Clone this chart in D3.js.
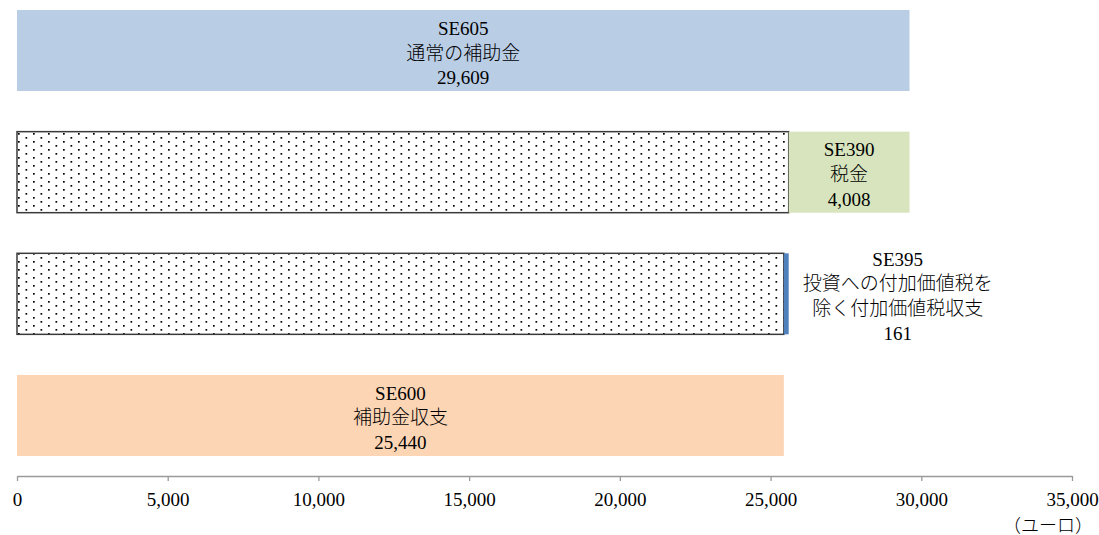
<!DOCTYPE html>
<html>
<head>
<meta charset="utf-8">
<script src="https://cdn.jsdelivr.net/npm/d3@7"></script>
<style>
    body { margin: 0; background: #fff; }
    svg text { font-family: "Liberation Serif", "Noto Sans CJK JP", serif; fill: #000; font-weight: 300; }
</style>
</head>
<body>
<div id="chart"></div>
<script>
    "use strict";

    // chart data
    const codes = ["SE605", "SE390", "SE395", "SE600"];
    const names = [["通常の補助金"], ["税金"], ["投資への付加価値税を", "除く付加価値税収支"], ["補助金収支"]];
    const values = [29609, 4008, 161, 25440];
    const kinds = ["total", "decrease", "decrease", "total"];
    const tickValues = [0, 5000, 10000, 15000, 20000, 25000, 30000, 35000];
    const unitLabel = "（ユーロ）";

    const barColors = ["#b9cde5", "#d7e4bd", "#4f81bd", "#fcd5b5"];

    const width = 1099;
    const height = 535;

    const svg = d3.select("#chart").append("svg")
        .attr("width", width)
        .attr("height", height);

    // dotted fill for the hidden base of the falling steps
    const pat = svg.append("defs").append("pattern")
        .attr("id", "dots")
        .attr("patternUnits", "userSpaceOnUse")
        .attr("x", 18).attr("y", 133)
        .attr("width", 15).attr("height", 8);
    pat.append("rect").attr("width", 15).attr("height", 8).attr("fill", "#fff");
    pat.append("rect").attr("x", 0).attr("y", 0).attr("width", 1.7).attr("height", 1.7).attr("fill", "#000");
    pat.append("rect").attr("x", 7.5).attr("y", 4).attr("width", 1.7).attr("height", 1.7).attr("fill", "#000");

    const x = d3.scaleLinear().domain([0, 35000]).range([17, 1072]);
    const y = d3.scaleBand().domain(codes).range([10, 456]).paddingInner(0.334).paddingOuter(0);

    // work out start/end of every step
    let running = 0;
    const rows = codes.map((c, i) => {
        let start, end;
        if (kinds[i] === "total") {
            start = 0; end = values[i]; running = values[i];
        } else {
            end = running; start = running - values[i]; running = start;
        }
        return { code: c, name: names[i], value: values[i], kind: kinds[i], start, end, color: barColors[i] };
    });

    // base boxes
    svg.selectAll("rect.base")
        .data(rows.filter(d => d.kind === "decrease"))
        .enter().append("rect")
        .attr("class", "base")
        .attr("x", x(0))
        .attr("y", d => y(d.code))
        .attr("width", d => x(d.start) - x(0))
        .attr("height", y.bandwidth())
        .attr("fill", "url(#dots)")
        .attr("stroke", "#3a3a3a")
        .attr("stroke-width", 1.5);

    // value bars
    svg.selectAll("rect.bar")
        .data(rows)
        .enter().append("rect")
        .attr("class", "bar")
        .attr("x", d => x(d.start))
        .attr("y", d => y(d.code))
        .attr("width", d => x(d.end) - x(d.start))
        .attr("height", y.bandwidth())
        .attr("fill", d => d.color);

    // labels
    const lineH = 24.8;
    const fmt = d3.format(",");
    rows.forEach(d => {
        const lines = [d.code].concat(d.name).concat([fmt(d.value)]);
        const cy = y(d.code) + y.bandwidth() / 2 + 2;
        const w = x(d.end) - x(d.start);
        const g = svg.append("g");
        const t = g.append("text")
            .attr("text-anchor", "middle")
            .style("font-size", "19px");
        lines.forEach((ln, k) => {
            t.append("tspan")
                .attr("x", 0)
                .attr("y", cy + (k - (lines.length - 1) / 2) * lineH + 7)
                .text(ln);
        });
        let cx;
        if (w > 100) {
            cx = (x(d.start) + x(d.end)) / 2;
        } else {
            const tw = t.node().getBBox().width;
            cx = x(d.end) + 14 + tw / 2;
        }
        g.attr("transform", "translate(" + cx + ",0)");
    });

    // axis
    const axis = d3.axisBottom(x)
        .tickValues(tickValues)
        .tickFormat(fmt)
        .tickSize(5)
        .tickSizeOuter(0)
        .tickPadding(12);

    const ax = svg.append("g")
        .attr("transform", "translate(0,476)")
        .call(axis);
    ax.select(".domain").attr("stroke", "#9a9a9a").attr("stroke-width", 1.3);
    ax.selectAll(".tick line").attr("stroke", "#9a9a9a").attr("stroke-width", 1.3);
    ax.selectAll(".tick text")
        .style("font-size", "19px")
        .style("font-family", "'Liberation Serif', serif")
        .attr("fill", "#000");

    svg.append("text")
        .attr("x", 1048)
        .attr("y", 532)
        .attr("text-anchor", "middle")
        .style("font-size", "18px")
        .text(unitLabel);
</script>
</body>
</html>
